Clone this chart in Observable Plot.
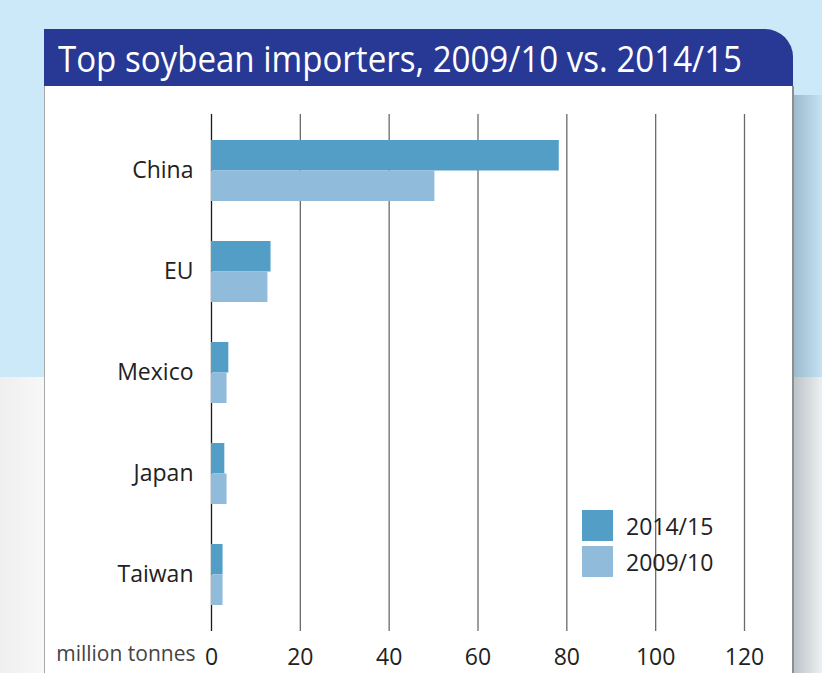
<!DOCTYPE html>
<html>
<head>
<meta charset="utf-8">
<script src="https://cdn.jsdelivr.net/npm/d3@7"></script>
<script src="https://cdn.jsdelivr.net/npm/@observablehq/plot@0.6"></script>
<style>
  html, body { margin: 0; padding: 0; }
  body { width: 822px; height: 673px; overflow: hidden; position: relative; background: #f5f5f5; font-family: "Open Sans", "Noto Sans", sans-serif; }
  #bgTop { position: absolute; left: 0; top: 0; width: 822px; height: 377px; background: #cbe9f9; }
  #bgBottom { position: absolute; left: 0; top: 377px; width: 822px; height: 296px; background: linear-gradient(to right, #efefef 0px, #f8f8f8 44px, #f6f6f6 100%); }
  #shadow { position: absolute; left: 793px; top: 95px; width: 29px; height: 578px; background: linear-gradient(to right, rgba(30,60,80,0.28), rgba(30,60,80,0.04)); }
  #card { position: absolute; left: 44px; top: 86px; width: 747px; height: 600px; background: #fff; border-left: 1px solid #a8a8a8; border-right: 2px solid #8e8e8e; }
  #header { position: absolute; left: 44px; top: 29px; width: 749px; height: 57px; background: #273995; border-top-right-radius: 28px; overflow: hidden; }
  #title { position: absolute; left: 14px; top: 6px; color: #fff; font-family: "Open Sans", sans-serif; font-size: 36px; white-space: nowrap; transform-origin: 0 0; line-height: 48px; }
  #chart { position: absolute; left: 0; top: 0; }
  #legend { position: absolute; left: 582px; top: 510px; font-family: "Open Sans", sans-serif; font-size: 23px; color: #222; }
  .lg { display: flex; align-items: center; height: 31px; margin-bottom: 5px; }
  .sw { width: 31px; height: 31px; margin-right: 13px; }
</style>
</head>
<body>
<div id="bgTop"></div>
<div id="bgBottom"></div>
<div id="shadow"></div>
<div id="card"></div>
<div id="header"><span id="title">Top soybean importers, 2009/10 vs. 2014/15</span></div>
<div id="chart"></div>
<div id="legend"></div>
<script>
const countries = ["China", "EU", "Mexico", "Japan", "Taiwan"];
const imports2014 = [78.3, 13.4, 3.9, 3.0, 2.6];
const imports2009 = [50.3, 12.7, 3.5, 3.5, 2.6];
const seriesLabels = ["2014/15", "2009/10"];
const seriesColors = ["#529ec6", "#91bbdb"];
const xTicks = [0, 20, 40, 60, 80, 100, 120];
const unitLabel = "million tonnes";

const rows2014 = countries.map((c, i) => ({country: c, value: imports2014[i]}));
const rows2009 = countries.map((c, i) => ({country: c, value: imports2009[i]}));

const half = 30.5;
const chart = Plot.plot({
  width: 822,
  height: 673,
  marginLeft: 211,
  marginRight: 78,
  marginTop: 114,
  marginBottom: 42,
  style: {background: "transparent", fontFamily: "'Open Sans', sans-serif", fontSize: "23px", color: "#222"},
  x: {domain: [0, 120]},
  y: {domain: countries, paddingInner: 0.4, paddingOuter: 0.246},
  marks: [
    Plot.ruleX(xTicks.filter(d => d !== 0), {stroke: "#6a6a6a", strokeWidth: 1.3, strokeOpacity: 1}),
    Plot.ruleX([0], {stroke: "#1a1a1a", strokeWidth: 1.3, strokeOpacity: 1}),
    Plot.barX(rows2014, {y: "country", x: "value", fill: seriesColors[0], insetBottom: half}),
    Plot.barX(rows2009, {y: "country", x: "value", fill: seriesColors[1], insetTop: half}),
    Plot.axisX({ticks: xTicks, tickSize: 0, tickPadding: 17, label: null, fontSize: 23, fill: "#222"}),
    Plot.axisY({tickSize: 0, tickPadding: 18, label: null, fontSize: 23, fill: "#222"}),
    Plot.text([unitLabel], {x: () => 0, frameAnchor: "bottom", textAnchor: "end", dx: -16, dy: 29, fontSize: 21, fill: "#444"})
  ]
});
document.getElementById("chart").appendChild(chart);

const legend = document.getElementById("legend");
seriesLabels.forEach((s, i) => {
  const row = document.createElement("div");
  row.className = "lg";
  row.innerHTML = `<div class="sw" style="background:${seriesColors[i]}"></div><span>${s}</span>`;
  legend.appendChild(row);
});

const title = document.getElementById("title");
const w = title.getBoundingClientRect().width;
title.style.transform = `scaleX(${684 / w})`;
</script>
</body>
</html>
